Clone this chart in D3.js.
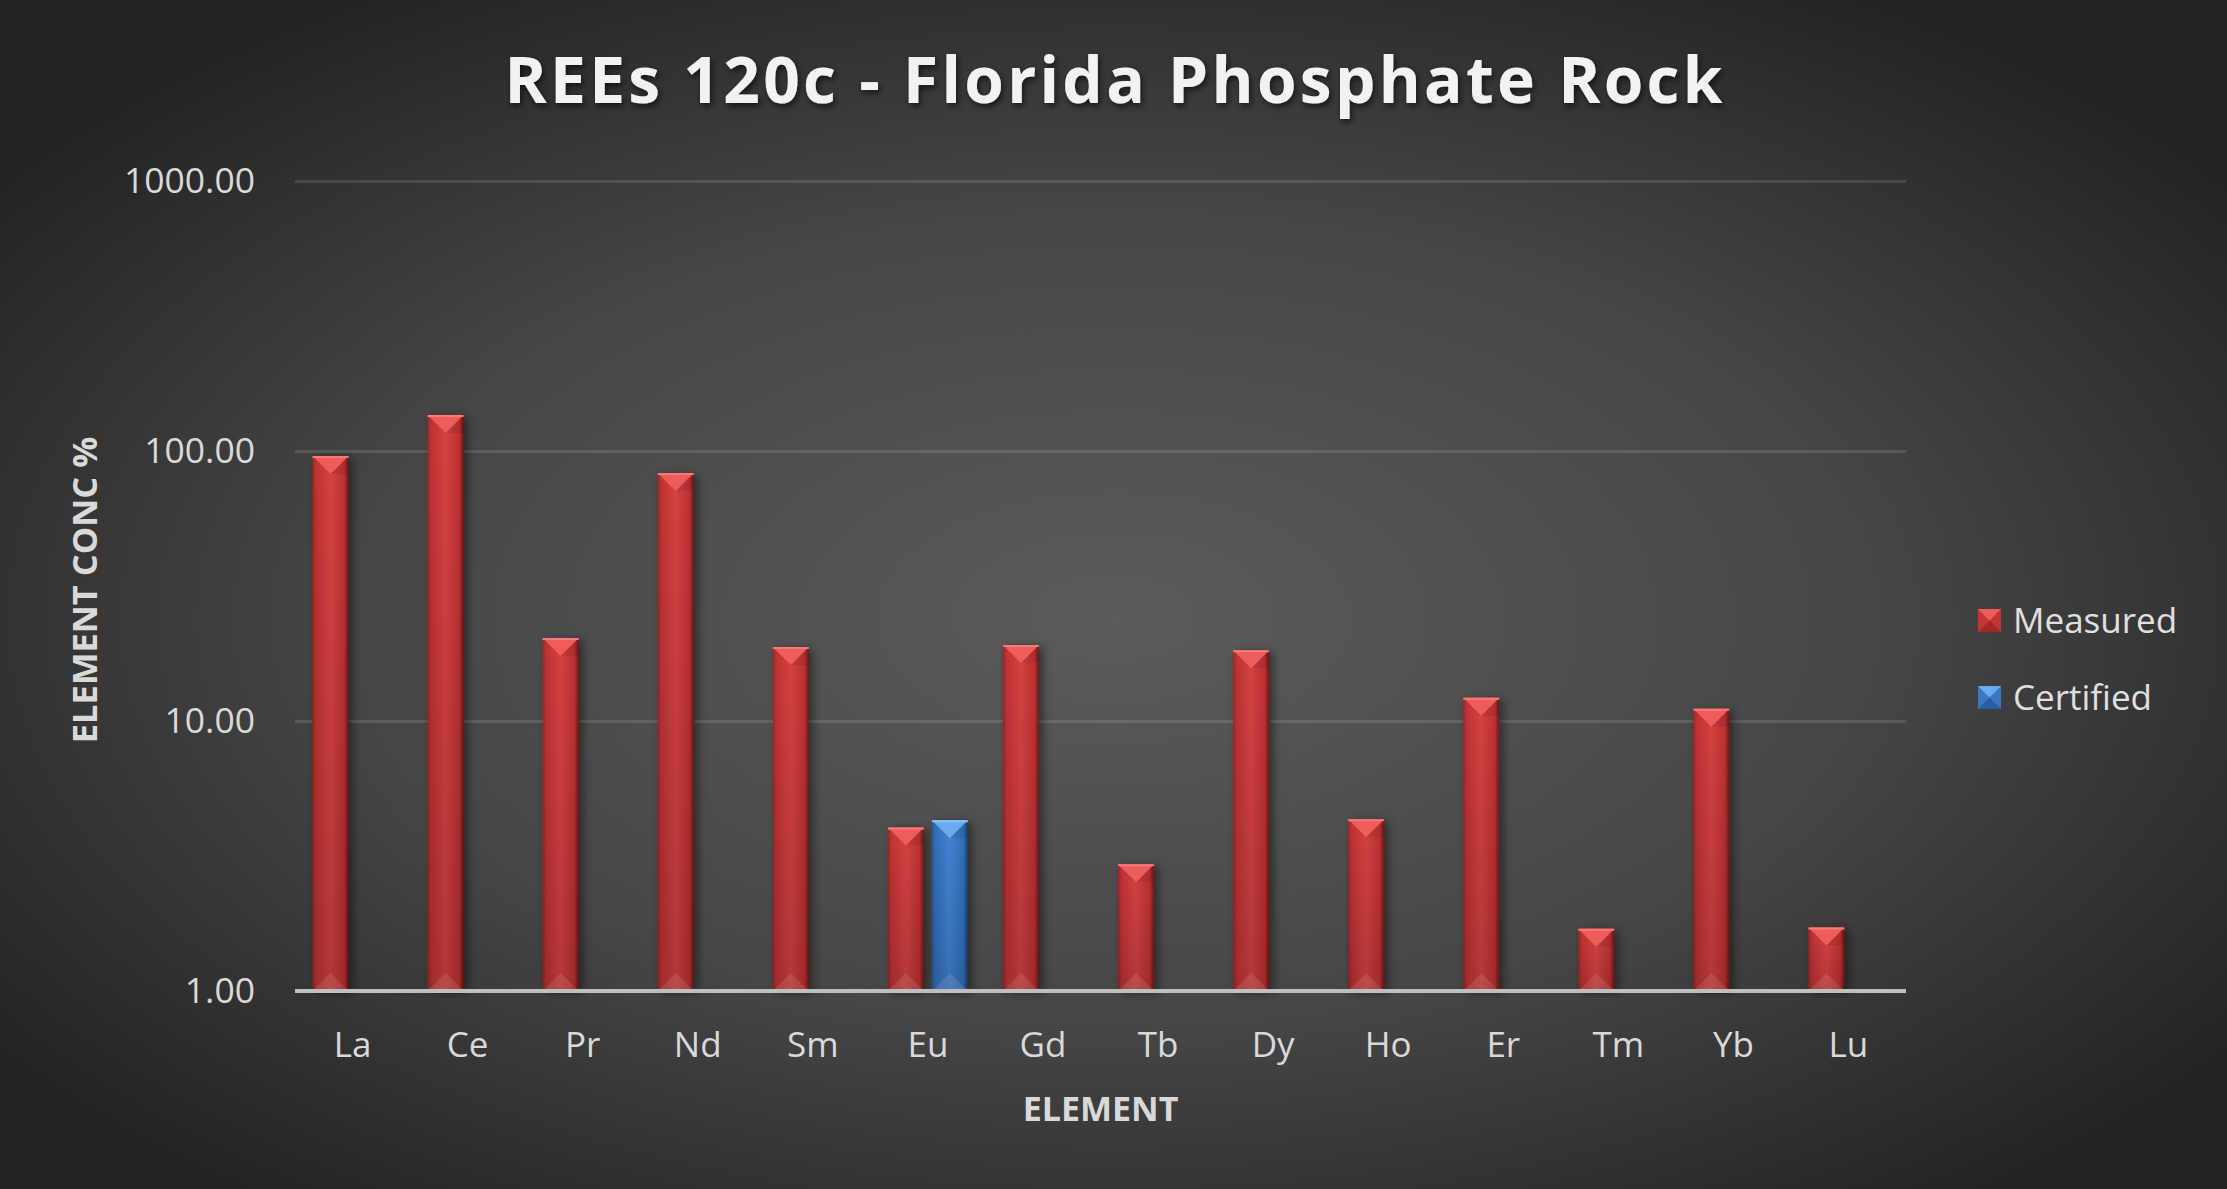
<!DOCTYPE html>
<html>
<head>
<meta charset="utf-8">
<script src="https://cdn.jsdelivr.net/npm/d3@7"></script>
<style>
  html, body { margin: 0; padding: 0; background: #2a2a2a; }
  svg { display: block; }
  text { font-family: "Open Sans", sans-serif; }
</style>
</head>
<body>
<svg id="chart"></svg>
<script>
// Chart data
const elements = ['La', 'Ce', 'Pr', 'Nd', 'Sm', 'Eu', 'Gd', 'Tb', 'Dy', 'Ho', 'Er', 'Tm', 'Yb', 'Lu'];
const seriesNames = ['Measured', 'Certified'];
const measured = [95.8, 136, 20.3, 82.9, 18.8, 4.03, 19.1, 2.95, 18.3, 4.33, 12.2, 1.70, 11.1, 1.72];
const certified = [null, null, null, null, null, 4.29, null, null, null, null, null, null, null, null];
const yTicks = [1, 10, 100, 1000];

const width = 2227, height = 1189;
const margin = {top: 181, right: 321, bottom: 198, left: 295};
const innerW = width - margin.left - margin.right;
const innerH = height - margin.top - margin.bottom;

const svg = d3.select('#chart')
    .attr('width', width)
    .attr('height', height);

const defs = svg.append('defs');

// background radial gradient
const bg = defs.append('radialGradient')
    .attr('id', 'bg')
    .attr('cx', '50%').attr('cy', '52%').attr('r', '62%');
bg.append('stop').attr('offset', '0%').attr('stop-color', '#5b5b5b');
bg.append('stop').attr('offset', '55%').attr('stop-color', '#464646');
bg.append('stop').attr('offset', '100%').attr('stop-color', '#232323');

// bar body gradients
function bodyGradient(id, stops) {
  const g = defs.append('linearGradient')
      .attr('id', id)
      .attr('x1', '0%').attr('x2', '100%').attr('y1', '0%').attr('y2', '0%');
  stops.forEach(s => g.append('stop').attr('offset', s[0]).attr('stop-color', s[1]));
}
bodyGradient('redBody', [['0%', '#9c2626'], ['10%', '#bf3333'], ['50%', '#d54242'], ['88%', '#bd3131'], ['100%', '#6e1818']]);
bodyGradient('blueBody', [['0%', '#275a9a'], ['10%', '#336fbd'], ['50%', '#4284d4'], ['88%', '#336eb9'], ['100%', '#1c3f6e']]);

const shade = defs.append('linearGradient')
    .attr('id', 'shade')
    .attr('x1', '0%').attr('x2', '0%').attr('y1', '0%').attr('y2', '100%');
shade.append('stop').attr('offset', '0%').attr('stop-color', '#000').attr('stop-opacity', 0);
shade.append('stop').attr('offset', '100%').attr('stop-color', '#000').attr('stop-opacity', 0.16);

const shadow = defs.append('filter')
    .attr('id', 'barShadow')
    .attr('x', '-30%').attr('y', '-10%').attr('width', '180%').attr('height', '120%');
shadow.append('feDropShadow')
    .attr('dx', 4).attr('dy', 2)
    .attr('stdDeviation', 5)
    .attr('flood-color', '#000')
    .attr('flood-opacity', 0.45);

const titleShadow = defs.append('filter')
    .attr('id', 'titleShadow')
    .attr('x', '-5%').attr('y', '-30%').attr('width', '110%').attr('height', '160%');
titleShadow.append('feDropShadow')
    .attr('dx', 2).attr('dy', 3)
    .attr('stdDeviation', 3)
    .attr('flood-color', '#000')
    .attr('flood-opacity', 0.6);

svg.append('rect')
    .attr('width', width)
    .attr('height', height)
    .attr('fill', 'url(#bg)');

const chart = svg.append('g')
    .attr('transform', `translate(${margin.left},${margin.top})`);

// scales
const xScale = d3.scaleBand()
    .domain(elements)
    .range([0, innerW]);

const groupW = 80;
const x1 = d3.scaleBand()
    .domain(seriesNames)
    .range([0, groupW])
    .paddingInner(0.1818);

const yScale = d3.scaleLog()
    .domain([1, 1000])
    .range([innerH, 0]);

// gridlines
const grid = d3.axisLeft(yScale)
    .tickValues(yTicks)
    .tickSize(-innerW)
    .tickFormat('');
chart.append('g')
    .attr('class', 'grid')
    .call(grid)
    .call(g => g.select('.domain').remove())
    .call(g => g.selectAll('line')
        .attr('stroke', '#ffffff')
        .attr('stroke-opacity', 0.12)
        .attr('stroke-width', 3));

// y axis labels
const yAxis = d3.axisLeft(yScale)
    .tickValues(yTicks)
    .tickSize(0)
    .tickPadding(40)
    .tickFormat(d3.format('.2f'));
chart.append('g')
    .call(yAxis)
    .call(g => g.select('.domain').remove())
    .call(g => g.selectAll('text')
        .attr('fill', '#d9d9d9')
        .style('font-size', '35.5px')
        .style('font-family', '"Open Sans", sans-serif'));

// bars
const rows = [];
elements.forEach((el, i) => {
  rows.push({el: el, series: 'Measured', value: measured[i]});
  if (certified[i] != null) rows.push({el: el, series: 'Certified', value: certified[i]});
});

const barX = d => xScale(d.el) + xScale.bandwidth() / 2 - groupW / 2 + x1(d.series);
const bw = x1.bandwidth();

const bars = chart.selectAll('.bar')
    .data(rows)
  .join('g')
    .attr('class', 'bar')
    .attr('transform', d => `translate(${barX(d)},0)`);

bars.append('rect')
    .attr('y', d => yScale(d.value))
    .attr('width', bw)
    .attr('height', d => innerH - yScale(d.value))
    .attr('fill', d => d.series === 'Measured' ? 'url(#redBody)' : 'url(#blueBody)')
    .attr('filter', 'url(#barShadow)');

bars.append('rect')
    .attr('y', d => yScale(d.value))
    .attr('width', bw)
    .attr('height', d => innerH - yScale(d.value))
    .attr('fill', 'url(#shade)');

// top bevel
const bev = bw / 2;
bars.append('path')
    .attr('d', d => {
      const t = yScale(d.value);
      return `M0,${t}L${bw},${t}L${bw / 2},${t + bev}Z`;
    })
    .attr('fill', d => d.series === 'Measured' ? '#ee5c5c' : '#6aaaf0');

bars.append('path')
    .attr('d', d => {
      const t = yScale(d.value);
      return `M${bw},${t}L${bw},${t + bev}L${bw / 2},${t + bev}Z`;
    })
    .attr('fill', '#000')
    .attr('fill-opacity', 0.08);

bars.append('line')
    .attr('x1', 0).attr('x2', bw)
    .attr('y1', d => yScale(d.value) + 1)
    .attr('y2', d => yScale(d.value) + 1)
    .attr('stroke', d => d.series === 'Measured' ? '#f77a7a' : '#8cc2f7')
    .attr('stroke-width', 2);

// bottom bevel
bars.append('path')
    .attr('d', `M0,${innerH}L${bw},${innerH}L${bw / 2},${innerH - bev}Z`)
    .attr('fill', '#ffffff')
    .attr('fill-opacity', 0.1);

// baseline
chart.append('line')
    .attr('x1', 0).attr('x2', innerW)
    .attr('y1', innerH).attr('y2', innerH)
    .attr('stroke', '#bfbfbf')
    .attr('stroke-width', 4);

// x axis labels
const xAxis = d3.axisBottom(xScale)
    .tickSize(0)
    .tickPadding(41);
chart.append('g')
    .attr('transform', `translate(0,${innerH})`)
    .call(xAxis)
    .call(g => g.select('.domain').remove())
    .call(g => g.selectAll('text')
        .attr('fill', '#d9d9d9')
        .style('font-size', '35px')
        .style('font-family', '"Open Sans", sans-serif'));

// axis titles
svg.append('text')
    .attr('x', margin.left + innerW / 2)
    .attr('y', 1121)
    .attr('text-anchor', 'middle')
    .attr('fill', '#d9d9d9')
    .style('font-size', '34px')
    .style('font-weight', 'bold')
    .text('ELEMENT');

svg.append('text')
    .attr('transform', `translate(97,${margin.top + innerH / 2 + 4}) rotate(-90)`)
    .attr('text-anchor', 'middle')
    .attr('fill', '#d9d9d9')
    .style('font-size', '34.5px')
    .style('font-weight', 'bold')
    .text('ELEMENT CONC %');

// title
svg.append('text')
    .attr('x', width / 2)
    .attr('y', 103)
    .attr('text-anchor', 'middle')
    .attr('fill', '#f2f2f2')
    .attr('textLength', 1218)
    .attr('lengthAdjust', 'spacing')
    .attr('filter', 'url(#titleShadow)')
    .style('font-size', '64px')
    .style('font-weight', 'bold')
    .text('REEs 120c - Florida Phosphate Rock');

// legend
const legend = svg.append('g')
    .attr('transform', 'translate(1978,609)');

const items = legend.selectAll('.legend-item')
    .data(seriesNames)
  .join('g')
    .attr('class', 'legend-item')
    .attr('transform', (d, i) => `translate(0,${i * 77})`);

const sw = 23;
items.append('rect')
    .attr('width', sw).attr('height', sw)
    .attr('fill', d => d === 'Measured' ? '#c43636' : '#3a78c6');
items.append('path')
    .attr('d', `M0,0L${sw},0L${sw / 2},${sw / 2}Z`)
    .attr('fill', d => d === 'Measured' ? '#ee5c5c' : '#6aaaf0');
items.append('path')
    .attr('d', `M0,${sw}L${sw},${sw}L${sw / 2},${sw / 2}Z`)
    .attr('fill', d => d === 'Measured' ? '#a02a2a' : '#2a5ea0');

items.append('text')
    .attr('x', 35)
    .attr('y', 24)
    .attr('fill', '#e0e0e0')
    .style('font-size', '35px')
    .text(d => d);
</script>
</body>
</html>
